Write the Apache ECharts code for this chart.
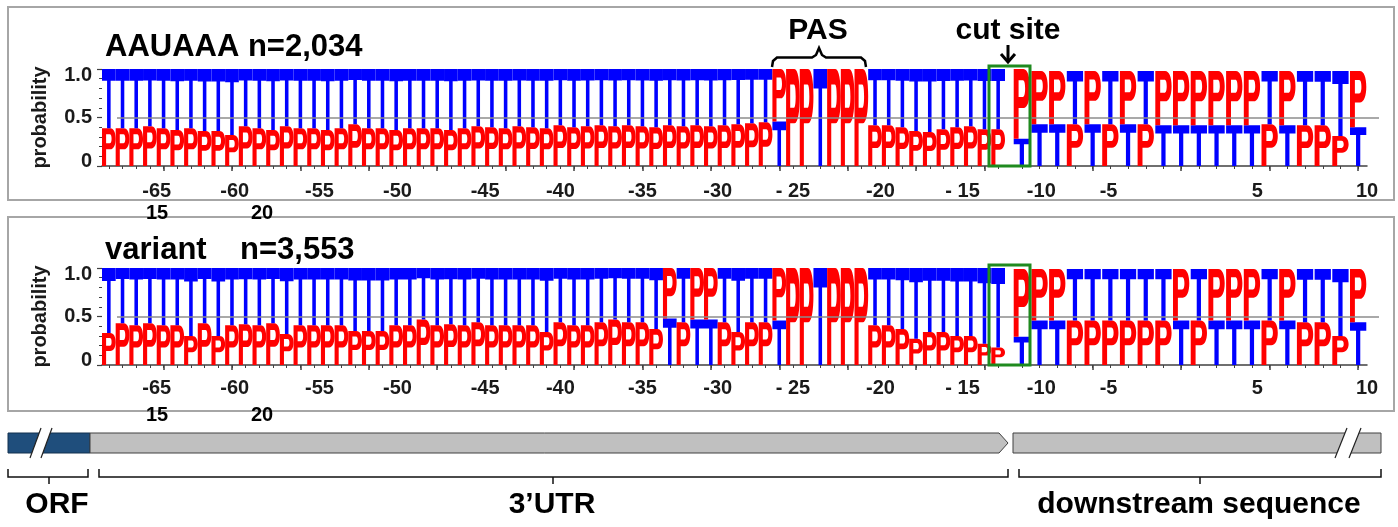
<!DOCTYPE html>
<html>
<head>
<meta charset="utf-8">
<script src="https://cdn.jsdelivr.net/npm/echarts@6/dist/echarts.min.js"></script>
<style>
  html, body { margin: 0; padding: 0; background: #fff; }
  #chart { width: 1398px; height: 527px; }
</style>
</head>
<body>
<div id="chart"></div>
<script>
// AAUAAA panel, upstream part (66 columns), P = red, T = blue
var p1LeftP = [0.39,0.39,0.39,0.41,0.39,0.37,0.39,0.36,0.36,0.32,0.41,0.39,0.37,0.41,0.39,0.39,0.37,0.39,0.43,0.39,0.39,0.37,0.39,0.39,0.39,0.37,0.39,
  0.41,0.40,0.39,0.41,0.40,0.39,0.42,0.40,0.41,0.42,0.41,0.42,0.41,0.40,0.42,0.41,0.42,0.41,0.42,0.43,0.44,0.45,
  0.54,1.00,1.00,0.00,1.00,1.00,1.00,
  0.42,0.42,0.40,0.36,0.35,0.38,0.40,0.41,0.38,0.38];
var p1LeftT = [0.61,0.61,0.61,0.59,0.61,0.63,0.61,0.64,0.64,0.68,0.59,0.61,0.63,0.59,0.61,0.61,0.63,0.61,0.57,0.61,0.61,0.63,0.61,0.61,0.61,0.63,0.61,
  0.59,0.60,0.61,0.59,0.60,0.61,0.58,0.60,0.59,0.58,0.59,0.58,0.59,0.60,0.58,0.59,0.58,0.59,0.58,0.57,0.56,0.55,
  0.46,0.00,0.00,1.00,0.00,0.00,0.00,
  0.58,0.58,0.60,0.64,0.65,0.62,0.60,0.59,0.62,0.62];
// AAUAAA panel, cut site and downstream part (20 columns)
var p1RightP = [0.72,0.55,0.55,0.43,0.55,0.43,0.55,0.43,0.56,0.56,0.56,0.56,0.56,0.56,0.43,0.56,0.42,0.42,0.31,0.58];
var p1RightT = [0.28,0.43,0.43,0.55,0.43,0.55,0.43,0.55,0.42,0.42,0.42,0.42,0.42,0.42,0.55,0.42,0.56,0.56,0.67,0.40];

// variant panel
var p2LeftP = [0.33,0.43,0.41,0.43,0.41,0.41,0.30,0.43,0.30,0.41,0.42,0.41,0.43,0.32,0.41,0.41,0.41,0.41,0.35,0.35,0.35,0.41,0.41,0.47,0.41,0.42,0.41,
  0.44,0.41,0.41,0.41,0.41,0.34,0.44,0.41,0.41,0.44,0.47,0.44,0.44,0.37,
  0.52,0.44,0.53,0.53,0.44,0.34,0.44,0.44,
  0.54,1.00,1.00,0.00,1.00,1.00,1.00,
  0.41,0.41,0.37,0.27,0.34,0.34,0.30,0.30,0.22,0.18];
var p2LeftT = [0.67,0.57,0.59,0.57,0.59,0.59,0.70,0.57,0.70,0.59,0.58,0.59,0.57,0.68,0.59,0.59,0.59,0.59,0.65,0.65,0.65,0.59,0.59,0.53,0.59,0.58,0.59,
  0.56,0.59,0.59,0.59,0.59,0.66,0.56,0.59,0.59,0.56,0.53,0.56,0.56,0.63,
  0.48,0.56,0.47,0.47,0.56,0.66,0.56,0.56,
  0.46,0.00,0.00,1.00,0.00,0.00,0.00,
  0.59,0.59,0.63,0.73,0.66,0.66,0.70,0.70,0.78,0.82];
var p2RightP = [0.70,0.53,0.53,0.46,0.46,0.46,0.46,0.46,0.46,0.53,0.46,0.53,0.53,0.53,0.46,0.53,0.44,0.44,0.30,0.55];
var p2RightT = [0.29,0.46,0.46,0.53,0.53,0.53,0.53,0.53,0.53,0.46,0.53,0.46,0.46,0.46,0.53,0.46,0.55,0.55,0.69,0.44];

// position labels (in column units along each axis)
var leftLabelPos = [4, 9.7, 15.9, 21.6, 28, 33.5, 39.5, 45, 50.5, 56.9, 62.9];
var leftLabelText = ['-65', '-60', '-55', '-50', '-45', '-40', '-35', '-30', '- 25', '-20', '- 15'];
var rightLabelPos = [1.6, 5.4, 13.8, 20];
var rightLabelText = ['-10', '-5', '5', '10'];
// y labels sit a little inside the ticks, as in the source figure
var yLabelPos = [0.05, 0.5, 0.93];
var yLabelText = ['0', '0.5', '1.0'];

var font = 'Liberation Sans, Arial, sans-serif';
var RED = '#ff0000';
var BLUE = '#0000ff';

// letter outlines in a 100x100 box, stretched to the stack height
var GLYPH = {
    P: 'M0 0 L60 0 C86 0 100 12 100 28 C100 44 86 56 60 56 L30 56 L30 100 L0 100 Z M30 16 L30 40 L56 40 C66 40 70 35 70 28 C70 21 66 16 56 16 Z',
    T: 'M0 0 L100 0 L100 20 L63 20 L63 100 L37 100 L37 20 L0 20 Z'
};

function makeRender(frac) {
    return function (params, api) {
        var i = api.value(0);
        var letters = [
            { ch: 'P', v: api.value(1), color: RED },
            { ch: 'T', v: api.value(2), color: BLUE }
        ];
        // smaller letter at the bottom
        letters.sort(function (a, b) { return a.v - b.v; });
        var w = api.size([1, 0])[0] * frac;
        var base = 0;
        var children = [];
        letters.forEach(function (l) {
            if (l.v <= 0) return;
            var p0 = api.coord([i + 0.5, base]);
            var p1 = api.coord([i + 0.5, base + l.v]);
            children.push({
                type: 'path',
                shape: { pathData: GLYPH[l.ch], layout: 'cover', x: p0[0] - w / 2, y: p1[1], width: w, height: p0[1] - p1[1] },
                style: { fill: l.color }
            });
            base += l.v;
        });
        return { type: 'group', children: children };
    };
}

function rows(pArr, tArr) {
    return pArr.map(function (p, i) { return [i, p, tArr[i]]; });
}

function centers(n, step, start) {
    var out = [];
    for (var k = start; k < n; k += step) out.push(k + 0.5);
    return out;
}

var axisColor = '#404040';

function xAxes(grid, n, labelPos, labelText, margin) {
    return [{
        type: 'value', gridIndex: grid, min: 0, max: n, position: 'bottom',
        axisLine: { show: true, lineStyle: { color: axisColor, width: 1.5 } },
        axisTick: { show: true, customValues: centers(n, 5, 4), length: 5, lineStyle: { color: axisColor, width: 1.5 } },
        axisLabel: {
            customValues: labelPos, margin: margin,
            fontFamily: font, fontSize: 20, fontWeight: 'bold', color: '#1a1a1a',
            formatter: function (v) { return labelText[labelPos.indexOf(v)]; }
        },
        splitLine: { show: false }
    }, {
        type: 'value', gridIndex: grid, min: 0, max: n, position: 'bottom',
        axisLine: { show: false },
        axisTick: { show: true, customValues: centers(n, 1, 0), length: 3, lineStyle: { color: axisColor, width: 1 } },
        axisLabel: { show: false },
        splitLine: { show: false }
    }];
}

function hiddenX(grid) {
    return { type: 'value', gridIndex: grid, min: 0, max: 1, show: false };
}

function yAxisShown(grid) {
    return {
        type: 'value', gridIndex: grid, min: 0, max: 1, interval: 0.5,
        name: 'probability', nameLocation: 'middle', nameGap: 52, nameRotate: 90,
        nameTextStyle: { fontFamily: font, fontSize: 20, fontWeight: 'bold', color: '#1a1a1a' },
        axisLine: { show: false },
        axisTick: { show: true, length: 5, lineStyle: { color: axisColor, width: 1.2 } },
        minorTick: { show: true, splitNumber: 5, length: 3, lineStyle: { color: axisColor, width: 1 } },
        axisLabel: {
            customValues: yLabelPos,
            fontFamily: font, fontSize: 20, fontWeight: 'bold', color: '#1a1a1a', margin: 10,
            formatter: function (v) { return yLabelText[yLabelPos.indexOf(v)]; }
        },
        splitLine: { show: false }
    };
}

function yAxisHidden(grid) {
    return { type: 'value', gridIndex: grid, min: 0, max: 1, show: false };
}

var tops = [69, 268];
var gridH = 97;

var grids = [];
var xs = [];
var ys = [];
var series = [];
var panels = [
    { lp: p1LeftP, lt: p1LeftT, rp: p1RightP, rt: p1RightT, margin: 15 },
    { lp: p2LeftP, lt: p2LeftT, rp: p2RightP, rt: p2RightT, margin: 13 }
];

panels.forEach(function (pn, k) {
    var g0 = grids.length;
    grids.push({ left: 102, width: 903, top: tops[k], height: gridH });
    grids.push({ left: 1013, width: 354, top: tops[k], height: gridH });
    grids.push({ left: 117, right: 19, top: tops[k], height: gridH });

    var xl = xs.length;
    xs = xs.concat(xAxes(g0, pn.lp.length, leftLabelPos, leftLabelText, pn.margin));
    var xr = xs.length;
    xs = xs.concat(xAxes(g0 + 1, pn.rp.length, rightLabelPos, rightLabelText, pn.margin));
    var xh = xs.length;
    xs.push(hiddenX(g0 + 2));

    var yl = ys.length;
    ys.push(yAxisShown(g0));
    ys.push(yAxisHidden(g0 + 1));
    ys.push(yAxisHidden(g0 + 2));

    series.push({
        type: 'line', xAxisIndex: xh, yAxisIndex: yl + 2, data: [], z: 1, silent: true,
        markLine: {
            silent: true, symbol: 'none', label: { show: false },
            lineStyle: { color: '#8c8c8c', width: 1.5, type: 'solid' },
            data: [{ yAxis: 0.5 }]
        }
    });
    series.push({
        type: 'custom', xAxisIndex: xl, yAxisIndex: yl, z: 3, silent: true,
        renderItem: makeRender(1.0), data: rows(pn.lp, pn.lt)
    });
    series.push({
        type: 'custom', xAxisIndex: xr, yAxisIndex: yl + 1, z: 3, silent: true,
        renderItem: makeRender(0.92), data: rows(pn.rp, pn.rt)
    });
});

function txt(s, x, y, size, align) {
    return {
        type: 'text', z: 50,
        style: {
            text: s, x: x, y: y, font: 'bold ' + size + 'px ' + font, fill: '#000',
            align: align || 'left', verticalAlign: 'middle',
            textAlign: align || 'left', textVerticalAlign: 'middle'
        }
    };
}

function stroke(w, c) {
    return { fill: 'none', stroke: c || '#000', lineWidth: w };
}

function pline(points, w, c, z) {
    return { type: 'polyline', z: z || 50, shape: { points: points }, style: stroke(w, c) };
}

var gray = '#c0c0c0';
var dark = '#404040';

var graphics = [
    // panel frames
    { type: 'rect', z: 40, shape: { x: 8, y: 7, width: 1386, height: 193 }, style: stroke(2, '#a6a6a6') },
    { type: 'rect', z: 40, shape: { x: 8, y: 217, width: 1386, height: 194 }, style: stroke(2, '#a6a6a6') },
    txt('AAUAAA n=2,034', 105, 47, 31),
    txt('variant', 105, 250, 31),
    txt('n=3,553', 240, 250, 31),
    txt('PAS', 818, 31, 30, 'center'),
    txt('cut site', 1008, 31, 30, 'center'),
    txt('15', 157, 213, 20, 'center'),
    txt('20', 262, 213, 20, 'center'),
    txt('15', 157, 415, 20, 'center'),
    txt('20', 262, 415, 20, 'center'),
    // PAS brace
    pline([[772, 67], [773, 61], [777, 57.5], [812, 57.5], [816, 55], [819, 48], [822, 55], [826, 57.5], [861, 57.5], [865, 61], [866, 67]], 2.5),
    // cut site arrow
    pline([[1008, 45], [1008, 62]], 3),
    pline([[1001, 54], [1008, 62], [1015, 54]], 3),
    // cut site boxes
    { type: 'rect', z: 45, shape: { x: 989, y: 66, width: 41, height: 100 }, style: stroke(3, '#1f8a1f') },
    { type: 'rect', z: 45, shape: { x: 989, y: 265, width: 41, height: 100 }, style: stroke(3, '#1f8a1f') },

    // gene diagram
    { type: 'rect', z: 20, shape: { x: 8, y: 433, width: 82, height: 20 }, style: { fill: '#1f4e7c', stroke: '#13314f', lineWidth: 1 } },
    { type: 'polygon', z: 20, shape: { points: [[90, 433], [999, 433], [1008, 443], [999, 453], [90, 453]] }, style: { fill: gray, stroke: dark, lineWidth: 1 } },
    { type: 'rect', z: 20, shape: { x: 1013, y: 433, width: 368, height: 20 }, style: { fill: gray, stroke: dark, lineWidth: 1 } },
    { type: 'polygon', z: 21, shape: { points: [[30, 458], [41, 428], [52, 428], [41, 458]] }, style: { fill: '#fff' } },
    pline([[30, 458], [41, 428]], 1.2, '#222', 22),
    pline([[41, 458], [52, 428]], 1.2, '#222', 22),
    { type: 'polygon', z: 21, shape: { points: [[1335, 458], [1347, 428], [1361, 428], [1349, 458]] }, style: { fill: '#fff' } },
    pline([[1335, 458], [1347, 428]], 1.2, '#222', 22),
    pline([[1349, 458], [1361, 428]], 1.2, '#222', 22),
    // brackets
    pline([[8, 469], [8, 477], [88, 477], [88, 469]], 1.5, '#111', 20),
    pline([[49, 477], [49, 484]], 1.5, '#111', 20),
    pline([[99, 469], [99, 477], [1008, 477], [1008, 469]], 1.5, '#111', 20),
    pline([[553, 477], [553, 484]], 1.5, '#111', 20),
    pline([[1019, 469], [1019, 477], [1381, 477], [1381, 469]], 1.5, '#111', 20),
    pline([[1200, 477], [1200, 484]], 1.5, '#111', 20),
    txt('ORF', 57, 505, 30, 'center'),
    txt('3\u2019UTR', 552, 505, 30, 'center'),
    txt('downstream sequence', 1199, 505, 30, 'center')
];

var dom = document.getElementById('chart');
var myChart = echarts.init(dom, null, { renderer: 'canvas' });

var option = {
    backgroundColor: '#fff',
    animation: false,
    grid: grids,
    xAxis: xs,
    yAxis: ys,
    series: series,
    graphic: graphics
};

myChart.setOption(option);
</script>
</body>
</html>
